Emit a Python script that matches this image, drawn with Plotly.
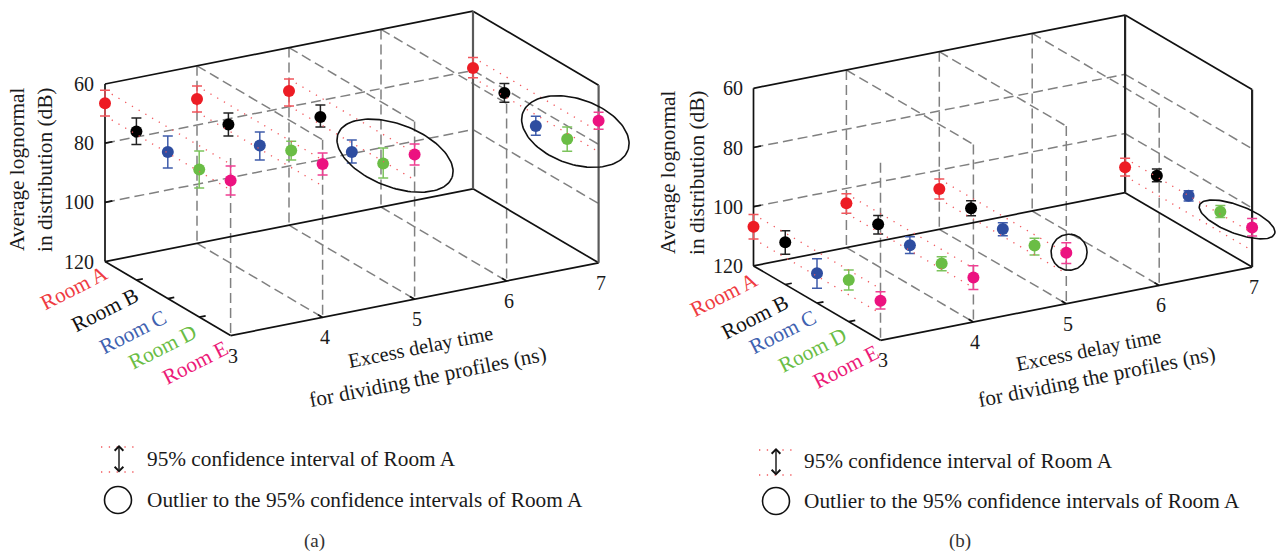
import numpy as np
import plotly.graph_objects as go

W, H = 1276, 555
FONT = "Liberation Serif"

rooms = ["Room A", "Room B", "Room C", "Room D", "Room E"]
room_colors = ["#ed1c24", "#000000", "#2e4da0", "#6abd45", "#ec1280"]
room_text_colors = ["#ef3b42", "#111111", "#3f62b0", "#6abd45", "#ec1a78"]
err_colors = ["#f0565c", "#222222", "#3f5cab", "#7cc35c", "#ef3f92"]
delays = [3, 4, 5, 7]
delay_ticks = [3, 4, 5, 6, 7]
db_ticks = [60, 80, 100, 120]

# rows: rooms A-E, columns: delays 3,4,5,7
a_mean = [[66.5, 71.2, 74.7, 79.2], [69.8, 73.6, 77.2, 81.4], [70.5, 74.4, 82.8, 86.3],
          [70.1, 69.9, 80.4, 84.4], [67.6, 68.2, 71.1, 72.0]]
a_low = [[62.1, 66.8, 70.6, 75.6], [65.2, 69.7, 73.1, 78.2], [65.1, 69.9, 78.7, 83.0],
         [63.9, 66.7, 75.2, 80.4], [62.7, 64.5, 67.6, 69.1]]
a_high = [[70.8, 75.6, 79.7, 82.5], [74.2, 77.5, 80.6, 84.5], [75.9, 79.3, 86.5, 89.4],
          [76.4, 73.1, 85.3, 88.6], [72.5, 71.9, 74.7, 74.9]]
b_mean = [[106.8, 105.0, 106.4, 111.4], [105.7, 105.8, 106.6, 108.0], [109.9, 106.6, 107.3, 108.5],
          [105.9, 106.5, 106.6, 107.6], [106.6, 105.0, 102.8, 106.6]]
b_low = [[102.6, 101.8, 103.0, 108.4], [101.8, 102.9, 104.1, 105.7], [105.0, 103.8, 105.2, 106.8],
         [102.5, 104.2, 104.2, 105.5], [103.6, 101.0, 99.4, 103.6]]
b_high = [[110.9, 108.4, 109.8, 114.4], [109.8, 109.1, 109.1, 110.0], [115.0, 109.4, 109.6, 110.2],
          [109.3, 109.0, 109.8, 109.5], [109.4, 109.0, 106.4, 109.5]]

legend_line1 = "95% confidence interval of Room A"
legend_line2 = "Outlier to the 95% confidence intervals of Room A"
y_title = ["Average lognormal", "in distribution (dB)"]
x_title = ["Excess delay time", "for dividing the profiles (ns)"]

# outlier ellipses: delay, room index, dB, then semi-axes (px) and tilt (deg)
a_ellipses = [(5.47, 2, 86.9, 61, 31.4, 21), (7.43, 2, 90.8, 55.8, 32.5, 19.4)]
b_ellipses = [(5.03, 4, 102.8, 18, 18, 0), (7.18, 3, 111.3, 40.2, 14, 21)]

panels = [
    dict(xa="x", ya="y", dom=[0, 638 / W], ox=105, oy=84, dx=92, dy=-18.2, rx=31.4, ry=18.5, sy=2.96,
         mean=a_mean, low=a_low, high=a_high, ell=a_ellipses, back="#5a5a5a", tag="(a)",
         tagx=314, legx=144.5, leg_y=(459, 500), dotx=(101, 137), doty=(447, 472), arrx=119, cx=118,
         room_off=[(-31, 26), (-31.5, 29.5), (-35, 33), (-36.5, 29.5), (-36, 27)],
         ttl1=(420, 347), ttl2=(428, 377), ytx=(17, 45), yty=170),
    dict(xa="x2", ya="y2", dom=[638 / W, 1], ox=753.5, oy=88.3, dx=92.9, dy=-18.3, rx=31.75, ry=18.6, sy=2.96,
         mean=b_mean, low=b_low, high=b_high, ell=b_ellipses, back="#222222", tag="(b)",
         tagx=960, legx=801.5, leg_y=(461, 501), dotx=(759, 794), doty=(450, 475), arrx=776, cx=776,
         room_off=[(-30, 29), (-30, 32), (-34, 29), (-36, 28), (-35, 27)],
         ttl1=(1088, 350), ttl2=(1096, 377), ytx=(668, 697), yty=173),
]

fig = go.Figure()
annotations, shapes = [], []


def px(x):
    return x / W


def py(y):
    return 1 - y / H


def note(text, x, y, size=21.3, color="#1a1a1a", angle=0, xanchor="center", **kw):
    annotations.append(dict(text=text, x=x, y=y, xref=kw.pop("xref", "paper"), yref=kw.pop("yref", "paper"),
                            showarrow=False, xanchor=xanchor, yanchor="middle", textangle=angle,
                            font=dict(family=FONT, size=size, color=color), **kw))


for idx, p in enumerate(panels):
    suffix = "" if idx == 0 else "2"
    x0_px, x1_px = p["dom"][0] * W, p["dom"][1] * W

    def proj(d, r, db, p=p):
        u = d + r * p["rx"] / p["dx"]
        v = db + ((d - 3) * p["dy"] + r * p["ry"]) / p["sy"]
        return u, v

    def segs(pairs, p=p):
        us, vs = [], []
        for s, e in pairs:
            a, b = proj(*s), proj(*e)
            us += [a[0], b[0], None]
            vs += [a[1], b[1], None]
        return us, vs

    def add_lines(pairs, color, width, dash="solid"):
        us, vs = segs(pairs)
        fig.add_trace(go.Scatter(x=us, y=vs, xaxis=p["xa"], yaxis=p["ya"], mode="lines", hoverinfo="skip",
                                 showlegend=False, cliponaxis=False,
                                 line=dict(color=color, width=width, dash=dash)))

    # grid
    inner = delay_ticks[1:-1]
    dash_pairs = []
    for d in inner:
        dash_pairs.append(((d, 0, 60), (d, 0, 120)))
        dash_pairs.append(((d, 0, 60), (d, 4, 60)))
        dash_pairs.append(((d, 0, 120), (d, 4, 120)))
    for d in delay_ticks[:-1]:
        dash_pairs.append(((d, 4, 60), (d, 4, 120)))
    for db in db_ticks[1:-1]:
        dash_pairs.append(((3, 0, db), (7, 0, db)))
        dash_pairs.append(((7, 0, db), (7, 4, db)))
    add_lines(dash_pairs, "#808080", 1.5, "10px,5px")

    frame = [((3, 0, 60), (3, 0, 120)), ((3, 0, 60), (7, 0, 60)), ((7, 0, 60), (7, 4, 60)),
             ((3, 0, 120), (7, 0, 120)), ((3, 0, 120), (3, 4, 120)), ((3, 4, 120), (7, 4, 120)),
             ((7, 0, 120), (7, 4, 120))]
    frame += [((3, r, 120), (3.07, r, 120)) for r in (1, 2, 3)]
    frame += [((3, 0, db), (3.08, 0, db)) for db in db_ticks[1:-1]]
    frame += [((d, 4, 120), (d, 3.85, 120)) for d in inner]
    add_lines(frame, "#111111", 1.7)
    add_lines([((7, 0, 60), (7, 0, 120)), ((7, 4, 60), (7, 4, 120))], p["back"], 2.2)

    # points
    for r, name in enumerate(rooms):
        xs, ys, plus, minus = [], [], [], []
        for j, d in enumerate(delays):
            u, v = proj(d, r, p["mean"][r][j])
            xs.append(u)
            ys.append(v)
            plus.append(p["high"][r][j] - p["mean"][r][j])
            minus.append(p["mean"][r][j] - p["low"][r][j])
        fig.add_trace(go.Scatter(x=xs, y=ys, xaxis=p["xa"], yaxis=p["ya"], mode="markers", name=name,
                                 showlegend=False, cliponaxis=False,
                                 marker=dict(size=12, color=room_colors[r]),
                                 error_y=dict(type="data", symmetric=False, array=plus, arrayminus=minus,
                                              color=err_colors[r], thickness=1.5, width=5)))

    # room A confidence bands
    ci = []
    for j, d in enumerate(delays):
        ci.append(((d, 0, p["low"][0][j]), (d, 4, p["low"][0][j])))
        ci.append(((d, 0, p["high"][0][j]), (d, 4, p["high"][0][j])))
    add_lines(ci, "#f2595e", 1.3, "1.3px,6.5px")

    # outlier ellipses
    t = np.linspace(0, 2 * np.pi, 121)
    for d, r, db, ea, eb, th in p["ell"]:
        u0, v0 = proj(d, r, db)
        c, s = np.cos(np.radians(th)), np.sin(np.radians(th))
        ex = ea * np.cos(t) * c - eb * np.sin(t) * s
        ey = ea * np.cos(t) * s + eb * np.sin(t) * c
        fig.add_trace(go.Scatter(x=u0 + ex / p["dx"], y=v0 + ey / p["sy"], xaxis=p["xa"], yaxis=p["ya"],
                                 mode="lines", hoverinfo="skip", showlegend=False, cliponaxis=False,
                                 line=dict(color="#111111", width=1.6)))

    # axes: one delay unit = dx px, one dB = sy px
    fig.update_layout(**{
        "xaxis" + suffix: dict(domain=p["dom"], range=[3 + (x0_px - p["ox"]) / p["dx"], 3 + (x1_px - p["ox"]) / p["dx"]],
                               visible=False, fixedrange=True),
        "yaxis" + suffix: dict(domain=[0, 1], range=[60 + (H - p["oy"]) / p["sy"], 60 + (0 - p["oy"]) / p["sy"]],
                               visible=False, fixedrange=True),
    })

    xr, yr = p["xa"], p["ya"]
    # dB tick labels
    for db in db_ticks:
        u, v = proj(3, 0, db)
        note(str(db), u, v, size=20, xanchor="right", xref=xr, yref=yr, xshift=-9)
    # delay tick labels
    for d in delay_ticks:
        u, v = proj(d, 4, 120)
        note(str(d), u, v, size=20, xref=xr, yref=yr, xshift=2, yshift=-20)
    # room labels
    for r, name in enumerate(rooms):
        u, v = proj(3, r, 120)
        note(name, u, v, color=room_text_colors[r], angle=-27, xref=xr, yref=yr,
             xshift=p["room_off"][r][0], yshift=-p["room_off"][r][1])
    # titles
    note(y_title[0], px(p["ytx"][0]), py(p["yty"]), angle=-90)
    note(y_title[1], px(p["ytx"][1]), py(p["yty"]), angle=-90)
    note(x_title[0], px(p["ttl1"][0]), py(p["ttl1"][1]), size=20.4, angle=-11.2)
    note(x_title[1], px(p["ttl2"][0]), py(p["ttl2"][1]), angle=-11.2)

    # legend key
    note(legend_line1, px(p["legx"]), py(p["leg_y"][0]), xanchor="left")
    note(legend_line2, px(p["legx"]), py(p["leg_y"][1]), xanchor="left")
    note(p["tag"], px(p["tagx"]), py(541), size=19, color="#333333")
    for yy in p["doty"]:
        shapes.append(dict(type="line", xref="paper", yref="paper", x0=px(p["dotx"][0]), x1=px(p["dotx"][1]),
                           y0=py(yy), y1=py(yy), line=dict(color="#f2595e", width=1.3, dash="1.3px,6.5px")))
    annotations.append(dict(x=px(p["arrx"]), y=py(p["doty"][0] - 2), xref="paper", yref="paper", text="",
                            showarrow=True, ax=0, ay=29, axref="pixel", ayref="pixel", arrowside="end+start",
                            arrowhead=4, arrowsize=1.2, arrowwidth=1.4, arrowcolor="#111111",
                            standoff=0, startstandoff=0))
    cy = p["leg_y"][1]
    shapes.append(dict(type="circle", xref="paper", yref="paper", x0=px(p["cx"] - 13.5), x1=px(p["cx"] + 13.5),
                       y0=py(cy + 13.5), y1=py(cy - 13.5), line=dict(color="#111111", width=1.6)))

fig.update_layout(width=W, height=H, margin=dict(l=0, r=0, t=0, b=0), autosize=False,
                  paper_bgcolor="white", plot_bgcolor="white", showlegend=False,
                  annotations=annotations, shapes=shapes, font=dict(family=FONT))
fig.write_html("out.html", config={"displayModeBar": False},
               post_script="document.body.style.margin='0';document.documentElement.style.overflow='hidden';")
